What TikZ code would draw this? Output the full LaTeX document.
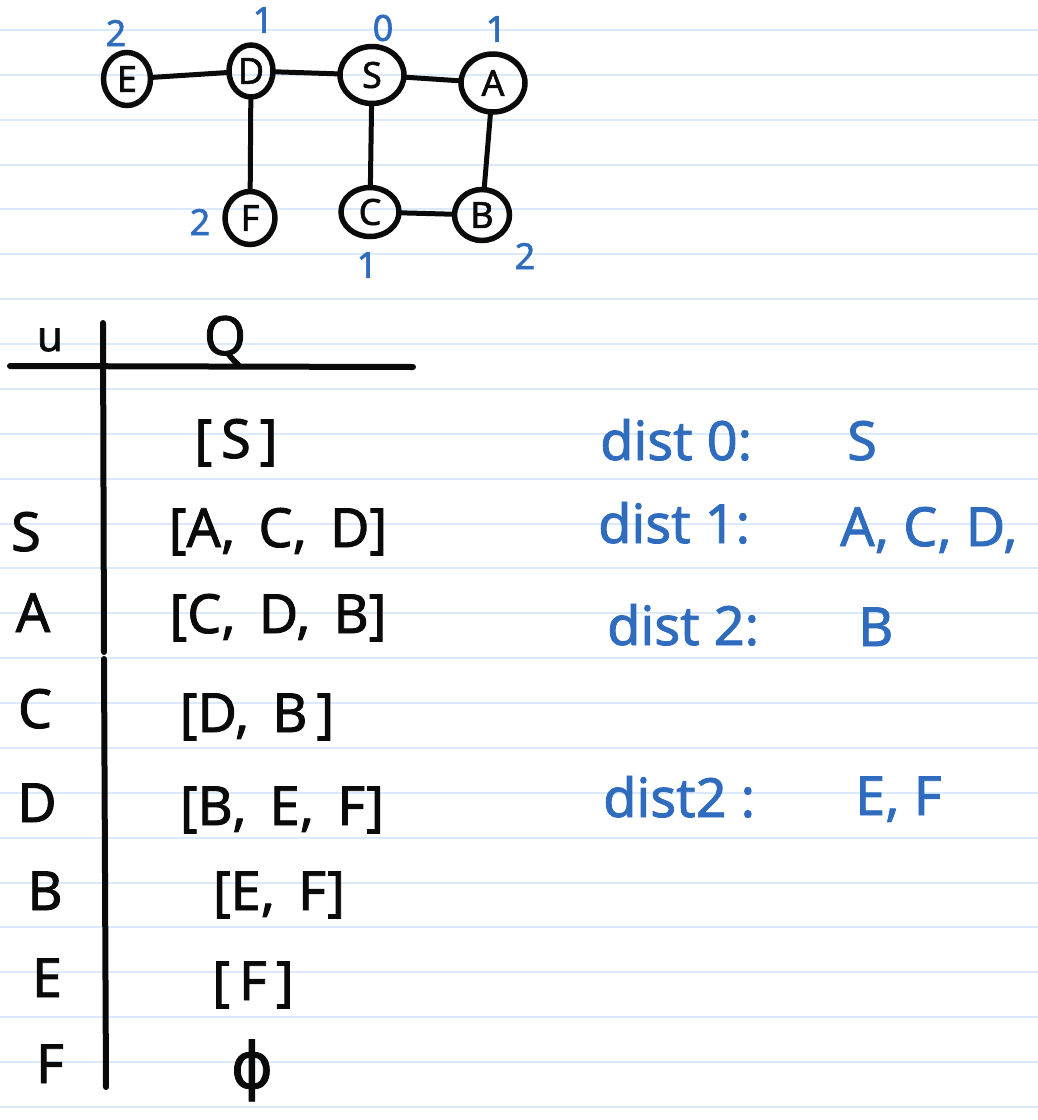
\documentclass[tikz,border=0pt]{standalone}
\usepackage{fontspec}
\setmainfont{Noto Sans}
\newfontfamily\hand[FakeBold=1.6]{Noto Sans}
\newfontfamily\symfont[FakeBold=1.2]{DejaVu Sans}
\usetikzlibrary{shapes.geometric}
\definecolor{ink}{RGB}{10,10,10}
\definecolor{pen}{RGB}{47,108,190}
\definecolor{rulecol}{RGB}{218,234,250}
\begin{document}
\begin{tikzpicture}[x=1pt,y=-1pt,
  vert/.style={draw=ink, ellipse, line width=5.5pt, inner sep=0pt, text=ink, font=\hand\fontsize{36}{36}\selectfont},
  edge/.style={draw=ink, line width=5pt, line cap=round},
  num/.style={text=pen, inner sep=0pt, font=\hand\fontsize{36}{36}\selectfont},
  tab/.style={text=ink, inner sep=0pt, anchor=base, font=\hand\fontsize{54}{54}\selectfont},
  note/.style={text=pen, inner sep=0pt, anchor=base west, font=\hand\fontsize{54}{54}\selectfont},
  rulestyle/.style={draw=rulecol, line width=2pt},
  tline/.style={draw=ink, line width=6pt, line cap=round}]
\fill[white] (0,0) rectangle (1038,1120);
\useasboundingbox (0,0) rectangle (1038,1120);
\foreach \k in {0,...,24} \draw[rulestyle] (0,{30+44.87*\k}) -- (1038,{30+44.87*\k});
% graph
\node[vert, minimum width=47pt, minimum height=53pt] (E) at (127,79) {E};
\node[vert, minimum width=44pt, minimum height=52pt] (D) at (251,71) {D};
\node[vert, minimum width=64pt, minimum height=57pt] (S) at (372,75) {S};
\node[vert, minimum width=64pt, minimum height=58pt] (A) at (493,83) {A};
\node[vert, minimum width=50pt, minimum height=53pt] (F) at (250,218) {F};
\node[vert, minimum width=58pt, minimum height=49pt] (C) at (370,212) {C};
\node[vert, minimum width=55pt, minimum height=51pt] (B) at (482,215) {B};
\draw[edge] (E) -- (D);
\draw[edge] (D) -- (S);
\draw[edge] (S) -- (A);
\draw[edge] (D) -- (F);
\draw[edge] (S) -- (C);
\draw[edge] (A) -- (B);
\draw[edge] (C) -- (B);
\node[num] (nE) at (116,33) {2};
\node[num] (nD) at (263,20) {1};
\node[num] (nS) at (383,28) {0};
\node[num] (nA) at (496,29) {1};
\node[num] (nF) at (200,222) {2};
\node[num] (nC) at (367,265) {1};
\node[num] (nB) at (525,256) {2};
% table
\draw[tline] (10,366) -- (413,367);
\draw[tline] (103,323) -- (104,652);
\draw[tline] (104,659) -- (106,1087);
\node[text=ink, inner sep=0pt, font=\hand\fontsize{42}{42}\selectfont] (hu) at (50,340) {u};
\node[text=ink, inner sep=0pt, font=\hand\fontsize{54}{54}\selectfont] (hq) at (225,340) {Q};
\node[tab] (q0) at (236,458) {[\,S\,]};
\node[tab] (r1) at (26,551) {S};
\node[tab] (q1) at (278,547) {[A,\, C,\, D]};
\node[tab] (r2) at (33,632) {A};
\node[tab] (q2) at (278,633) {[C,\, D,\, B]};
\node[tab] (r3) at (35,728) {C};
\node[tab] (q3) at (257,732) {[D,\, B\,]};
\node[tab] (r4) at (37,822) {D};
\node[tab] (q4) at (282,825) {[B,\, E,\, F]};
\node[tab] (r5) at (45,910) {B};
\node[tab] (q5) at (279,910) {[E,\, F]};
\node[tab] (r6) at (47,997) {E};
\node[tab] (q6) at (253,1000) {[\,F\,]};
\node[tab] (r7) at (50,1083) {F};
\node[tab, font=\symfont\fontsize{64}{64}\selectfont] (q7) at (252,1088) {ϕ};
% notes
\node[note] (d0) at (600,460) {dist 0:};
\node[note] (v0) at (847,460) {S};
\node[note] (d1) at (598,543) {dist 1:};
\node[note] (v1) at (840,546) {A, C, D,};
\node[note] (d2) at (607,645) {dist 2:};
\node[note] (v2) at (858,646) {B};
\node[note] (d3) at (603,817) {dist2 :};
\node[note] (v3) at (855,815) {E, F};
\end{tikzpicture}
\end{document}
